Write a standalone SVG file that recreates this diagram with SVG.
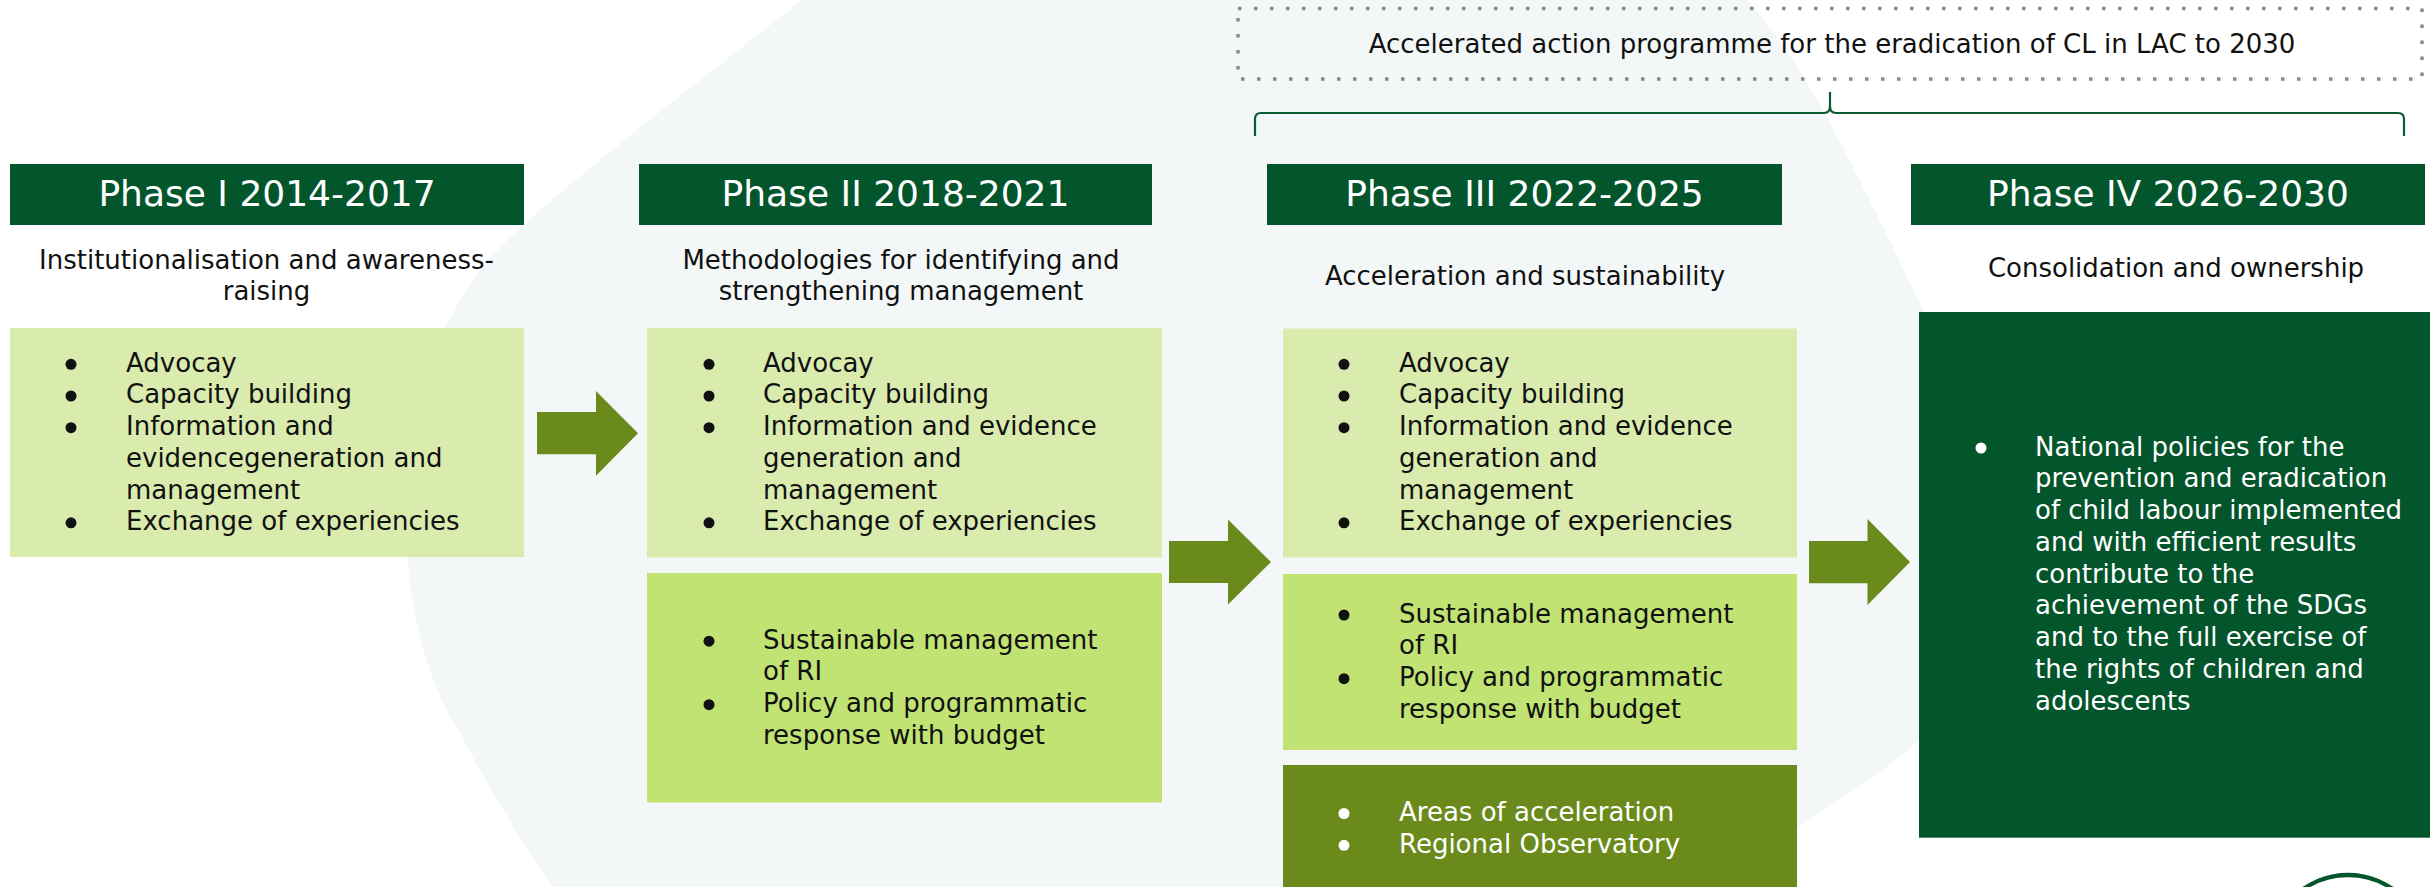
<svg xmlns="http://www.w3.org/2000/svg" width="2430" height="887" viewBox="0 0 2430 887">
<defs>
<style>
.hdr{fill:#03552C}
.hdrt{font-family:"DejaVu Sans",sans-serif;font-size:36px;fill:#ffffff;text-anchor:middle}
.sub{font-family:"DejaVu Sans",sans-serif;font-size:26px;fill:#111111;text-anchor:middle}
.body{font-family:"DejaVu Sans",sans-serif;font-size:26px;fill:#111111}
.wbody{font-family:"DejaVu Sans",sans-serif;font-size:26px;fill:#ffffff}
.light{fill:#DAEBAE}
.mid{fill:#C1E373}
.olive{fill:#6A8B1C}
.dark{fill:#03552C}
.bul{fill:#111111}
.wbul{fill:#ffffff}
.arrow{fill:#6A8B1C}
</style>
</defs>
<rect x="0" y="0" width="2430" height="887" fill="#ffffff"/>
<path id="background-shape" d="M 840,-30 C 740,50 580,170 500,247 C 440,315 405,400 405,500 C 405,600 425,680 460,733 C 490,790 520,840 553,887 L 600,960 L 1650,960 L 1797,827 C 1860,785 1900,760 1919,740 C 1995,660 2000,420 1923,310 C 1890,240 1860,180 1827,117 C 1800,70 1775,30 1747,0 L 1728,-30 Z" fill="#F3F7F8"/>

<g id="programme-label">
<rect x="1238" y="8.5" width="1184" height="70.5" fill="none" stroke="#8A8A8A" stroke-width="3.5" stroke-dasharray="3.5 12.5"/>
<text class="sub" x="1832" y="53">Accelerated action programme for the eradication of CL in LAC to 2030</text>
</g>

<g id="phase1">
<rect class="hdr" x="10" y="164" width="514" height="61"/>
<text class="hdrt" x="267" y="206">Phase I 2014-2017</text>
<text class="sub" x="266.5" y="269">Institutionalisation and awareness-</text>
<text class="sub" x="266.5" y="300">raising</text>
<rect class="light" x="10" y="328" width="514" height="229"/>
<circle class="bul" cx="71" cy="364.3" r="5.5"/>
<circle class="bul" cx="71" cy="396" r="5.5"/>
<circle class="bul" cx="71" cy="427.7" r="5.5"/>
<circle class="bul" cx="71" cy="522.8" r="5.5"/>
<text class="body" x="126" y="371.7">Advocay</text>
<text class="body" x="126" y="403.4">Capacity building</text>
<text class="body" x="126" y="435.1">Information and</text>
<text class="body" x="126" y="466.8">evidencegeneration and</text>
<text class="body" x="126" y="498.5">management</text>
<text class="body" x="126" y="530.2">Exchange of experiencies</text>
</g>

<g id="phase2">
<rect class="hdr" x="639" y="164" width="513" height="61"/>
<text class="hdrt" x="895.5" y="206">Phase II 2018-2021</text>
<text class="sub" x="901" y="268.5">Methodologies for identifying and</text>
<text class="sub" x="901" y="300">strengthening management</text>
<rect class="light" x="647" y="328" width="515" height="229.5"/>
<circle class="bul" cx="709" cy="364.3" r="5.5"/>
<circle class="bul" cx="709" cy="396" r="5.5"/>
<circle class="bul" cx="709" cy="427.7" r="5.5"/>
<circle class="bul" cx="709" cy="522.8" r="5.5"/>
<text class="body" x="763" y="371.7">Advocay</text>
<text class="body" x="763" y="403.4">Capacity building</text>
<text class="body" x="763" y="435.1">Information and evidence</text>
<text class="body" x="763" y="466.8">generation and</text>
<text class="body" x="763" y="498.5">management</text>
<text class="body" x="763" y="530.2">Exchange of experiencies</text>
<rect class="mid" x="647" y="573" width="515" height="229.5"/>
<circle class="bul" cx="709" cy="641.2" r="5.5"/>
<circle class="bul" cx="709" cy="704.7" r="5.5"/>
<text class="body" x="763" y="648.5">Sustainable management</text>
<text class="body" x="763" y="680">of RI</text>
<text class="body" x="763" y="712">Policy and programmatic</text>
<text class="body" x="763" y="743.5">response with budget</text>
</g>

<g id="phase3">
<rect class="hdr" x="1267" y="164" width="515" height="61"/>
<text class="hdrt" x="1524.5" y="206">Phase III 2022-2025</text>
<text class="sub" x="1525" y="285">Acceleration and sustainability</text>
<rect class="light" x="1283" y="328.5" width="514" height="229"/>
<circle class="bul" cx="1344" cy="364.3" r="5.5"/>
<circle class="bul" cx="1344" cy="396" r="5.5"/>
<circle class="bul" cx="1344" cy="427.7" r="5.5"/>
<circle class="bul" cx="1344" cy="522.8" r="5.5"/>
<text class="body" x="1399" y="371.7">Advocay</text>
<text class="body" x="1399" y="403.4">Capacity building</text>
<text class="body" x="1399" y="435.1">Information and evidence</text>
<text class="body" x="1399" y="466.8">generation and</text>
<text class="body" x="1399" y="498.5">management</text>
<text class="body" x="1399" y="530.2">Exchange of experiencies</text>
<rect class="mid" x="1283" y="574" width="514" height="176"/>
<circle class="bul" cx="1344" cy="615" r="5.5"/>
<circle class="bul" cx="1344" cy="678.7" r="5.5"/>
<text class="body" x="1399" y="622.5">Sustainable management</text>
<text class="body" x="1399" y="654.3">of RI</text>
<text class="body" x="1399" y="686.2">Policy and programmatic</text>
<text class="body" x="1399" y="718">response with budget</text>
<rect class="olive" x="1283" y="765" width="514" height="140"/>
<circle class="wbul" cx="1344" cy="813.5" r="5.5"/>
<circle class="wbul" cx="1344" cy="845.3" r="5.5"/>
<text class="wbody" x="1399" y="821">Areas of acceleration</text>
<text class="wbody" x="1399" y="852.8">Regional Observatory</text>
</g>

<g id="phase4">
<rect class="hdr" x="1911" y="164" width="514" height="61"/>
<text class="hdrt" x="2168" y="206">Phase IV 2026-2030</text>
<text class="sub" x="2176" y="276.7">Consolidation and ownership</text>
<rect class="dark" x="1919" y="312" width="520" height="525.7"/>
<circle class="wbul" cx="1981" cy="448" r="5.5"/>
<text class="wbody" x="2035" y="455.5">National policies for the</text>
<text class="wbody" x="2035" y="487.3">prevention and eradication</text>
<text class="wbody" x="2035" y="519">of child labour implemented</text>
<text class="wbody" x="2035" y="550.8">and with efficient results</text>
<text class="wbody" x="2035" y="582.5">contribute to the</text>
<text class="wbody" x="2035" y="614.3">achievement of the SDGs</text>
<text class="wbody" x="2035" y="646">and to the full exercise of</text>
<text class="wbody" x="2035" y="677.8">the rights of children and</text>
<text class="wbody" x="2035" y="709.5">adolescents</text>
</g>

<g id="connectors">
<polygon class="arrow" points="537,412 596,412 596,391 638,433.3 596,475.7 596,454.3 537,454.3"/>
<polygon class="arrow" points="1169,541 1228,541 1228,519.5 1271,562 1228,604.5 1228,583 1169,583"/>
<polygon class="arrow" points="1809,541 1867.5,541 1867.5,519 1910,562 1867.5,605 1867.5,583.3 1809,583.3"/>
<path d="M 1255,136 L 1255,119 Q 1255,113 1261,113 L 1824,113 Q 1830,113 1830,106 L 1830,92 M 1830,106 Q 1830,113 1836,113 L 2398,113 Q 2404,113 2404,119 L 2404,136" fill="none" stroke="#0E5A30" stroke-width="2.2"/>
</g>

<g id="logo">
<circle cx="2348" cy="953" r="78" fill="none" stroke="#03552C" stroke-width="4.5"/>
</g>
</svg>
